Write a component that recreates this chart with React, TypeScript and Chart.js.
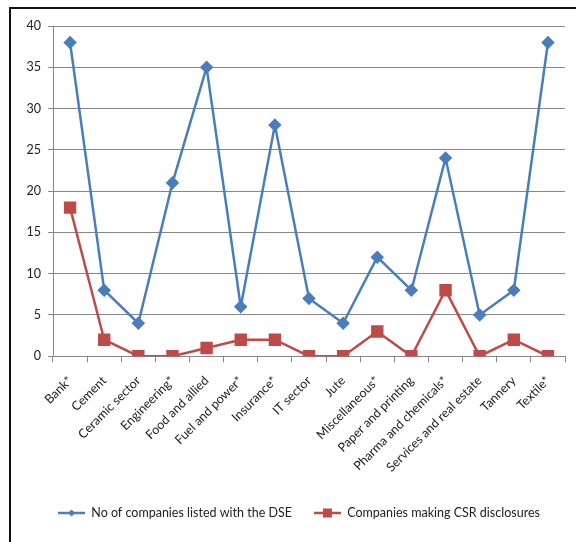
import React, { useEffect, useRef } from "react";
import { Chart, registerables } from "chart.js";

Chart.register(...registerables);

const categories = [
  "Bank*",
  "Cement",
  "Ceramic sector",
  "Engineering*",
  "Food and allied",
  "Fuel and power*",
  "Insurance*",
  "IT sector",
  "Jute",
  "Miscellaneous*",
  "Paper and printing",
  "Pharma and chemicals*",
  "Services and real estate",
  "Tannery",
  "Textile*",
];

const listedCompanies = [38, 8, 4, 21, 35, 6, 28, 7, 4, 12, 8, 24, 5, 8, 38];
const csrCompanies = [18, 2, 0, 0, 1, 2, 2, 0, 0, 3, 0, 8, 0, 2, 0];

const seriesNames = [
  "No of companies listed with the DSE",
  "Companies making CSR disclosures",
];

const BLUE = "#4A7EBB";
const RED = "#BE4B48";
const GRID = "#878787";
const FONT = "Lato, 'Liberation Sans', sans-serif";

function legendIcon(color: string, kind: "diamond" | "square") {
  const c = document.createElement("canvas");
  c.width = 27;
  c.height = 12;
  const ctx = c.getContext("2d")!;
  ctx.strokeStyle = color;
  ctx.lineWidth = 2.5;
  ctx.beginPath();
  ctx.moveTo(0, 6);
  ctx.lineTo(27, 6);
  ctx.stroke();
  ctx.fillStyle = color;
  if (kind === "diamond") {
    ctx.beginPath();
    ctx.moveTo(13.5, 2.5);
    ctx.lineTo(17, 6);
    ctx.lineTo(13.5, 9.5);
    ctx.lineTo(10, 6);
    ctx.closePath();
    ctx.fill();
  } else {
    ctx.fillRect(9, 1.5, 9, 9);
  }
  return c;
}

const legendShift = {
  id: "legendShift",
  afterLayout(chart: any) {
    const lg = chart.legend;
    if (lg) {
      lg.left += 11;
      lg.right += 11;
    }
  },
};

export default function App() {
  const ref = useRef<HTMLCanvasElement | null>(null);

  useEffect(() => {
    if (!ref.current) return;
    const blueIcon = legendIcon(BLUE, "diamond");
    const redIcon = legendIcon(RED, "square");
    const chart = new Chart(ref.current, {
      type: "line",
      data: {
        labels: categories,
        datasets: [
          {
            label: seriesNames[0],
            data: listedCompanies,
            borderColor: BLUE,
            backgroundColor: BLUE,
            borderWidth: 2.5,
            pointStyle: "rectRot",
            pointRadius: 5,
            pointHoverRadius: 5,
            tension: 0,
          },
          {
            label: seriesNames[1],
            data: csrCompanies,
            borderColor: RED,
            backgroundColor: RED,
            borderWidth: 2.5,
            pointStyle: "rect",
            pointRadius: 7,
            pointHoverRadius: 7,
            tension: 0,
          },
        ],
      },
      plugins: [legendShift],
      options: {
        responsive: false,
        animation: false,
        layout: { padding: { left: 0, right: 11, top: 16, bottom: 12.75 } },
        plugins: {
          tooltip: { enabled: false },
          legend: {
            position: "bottom",
            labels: {
              usePointStyle: true,
              pointStyleWidth: 27,
              padding: 22,
              color: "#222",
              font: { family: FONT, size: 12.5 },
              generateLabels: (ch: any) =>
                ch.data.datasets.map((ds: any, i: number) => ({
                  text: ds.label,
                  pointStyle: i === 0 ? blueIcon : redIcon,
                  fillStyle: ds.borderColor,
                  strokeStyle: ds.borderColor,
                  lineWidth: 0,
                  hidden: false,
                  datasetIndex: i,
                  fontColor: "#222",
                })),
            },
          },
        },
        scales: {
          x: {
            offset: true,
            afterFit: (s: any) => {
              s.height = 128.5;
            },
            grid: {
              offset: true,
              drawOnChartArea: false,
              drawTicks: true,
              tickLength: 6,
              color: GRID,
            },
            border: { display: true, color: GRID, width: 1 },
            ticks: {
              minRotation: 45,
              maxRotation: 45,
              autoSkip: false,
              color: "#222",
              padding: 11,
              font: { family: FONT, size: 12.5 },
            },
          },
          y: {
            min: 0,
            max: 40,
            afterFit: (s: any) => {
              s.width = 42;
            },
            grid: {
              color: GRID,
              drawTicks: true,
              tickLength: 5,
            },
            border: { display: true, color: GRID, width: 1 },
            ticks: {
              stepSize: 5,
              padding: 7,
              color: "#222",
              font: { family: FONT, size: 12.5 },
            },
          },
        },
      },
    });
    return () => chart.destroy();
  }, []);

  return (
    <div
      style={{
        position: "fixed",
        left: 0,
        top: 0,
        width: 576,
        height: 542,
        overflow: "hidden",
        background: "#fff",
      }}
    >
      <div
        style={{
          position: "absolute",
          left: 9,
          top: 7,
          width: 620,
          height: 620,
          border: "2px solid #111",
        }}
      />
      <canvas
        ref={ref}
        width={565}
        height={532}
        style={{ position: "absolute", left: 11, top: 10, width: 565, height: 532 }}
      />
    </div>
  );
}
